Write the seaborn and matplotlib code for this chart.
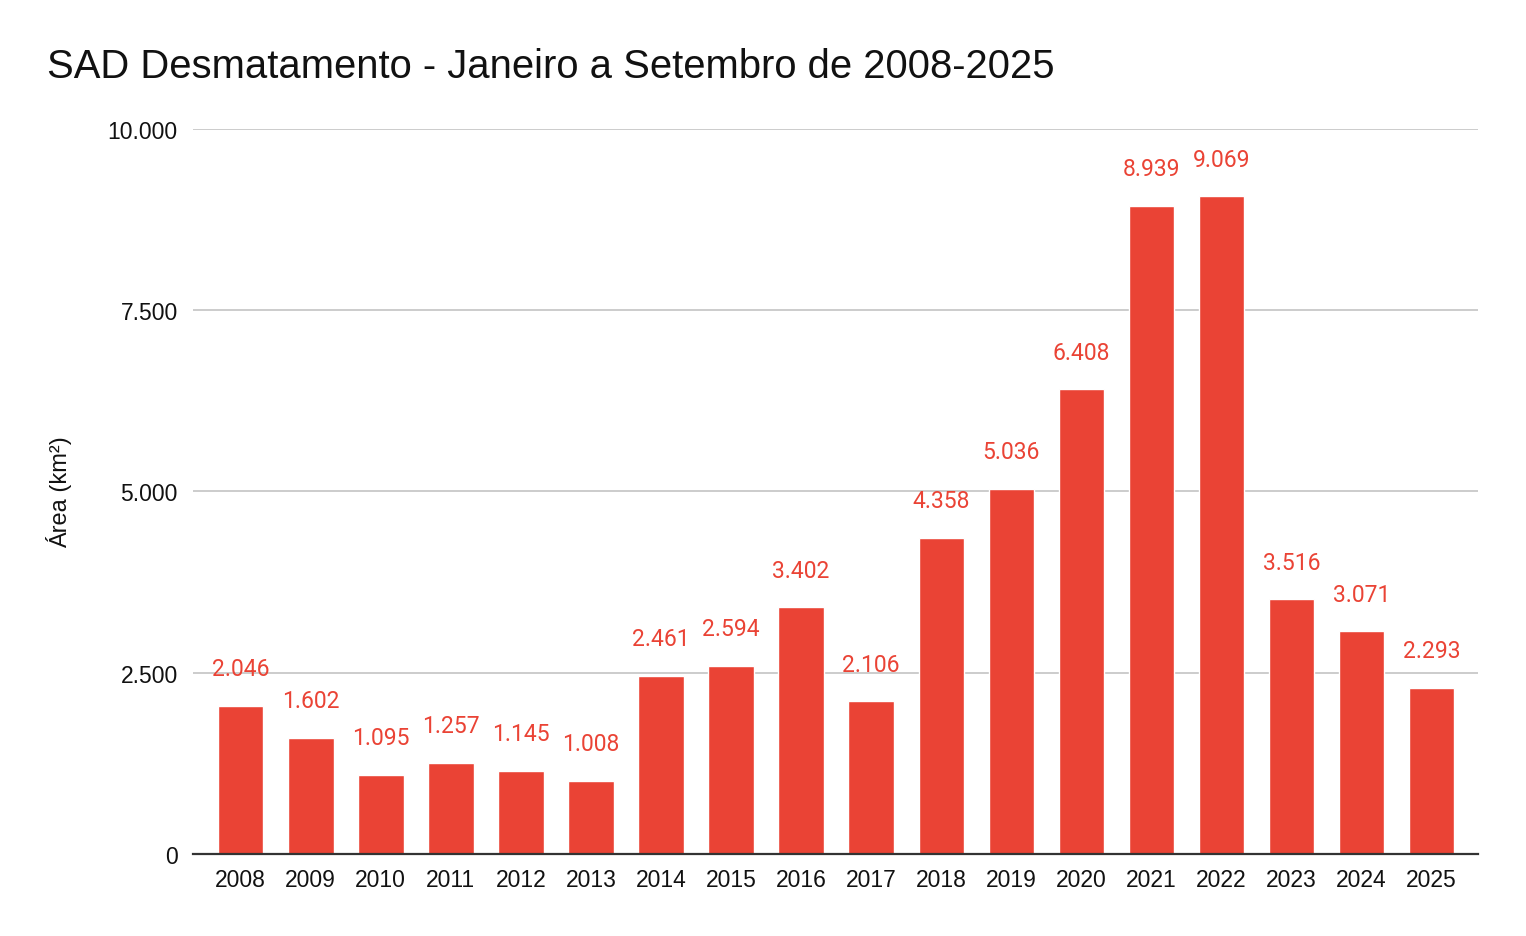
import pandas as pd
import matplotlib.pyplot as plt
import seaborn as sns
from matplotlib.ticker import FuncFormatter

years = ["2008", "2009", "2010", "2011", "2012", "2013", "2014", "2015", "2016",
         "2017", "2018", "2019", "2020", "2021", "2022", "2023", "2024", "2025"]
area = [2046, 1602, 1095, 1257, 1145, 1008, 2461, 2594, 3402,
        2106, 4358, 5036, 6408, 8939, 9069, 3516, 3071, 2293]
yticks = [0, 2500, 5000, 7500, 10000]

RED = "#EA4335"
ARIAL = ["Liberation Sans", "DejaVu Sans"]


def fmt(v):
    return f"{int(v):,}".replace(",", ".")


def main():
    df = pd.DataFrame({"ano": years, "area": area})

    sns.set_theme(style="white")
    plt.rcParams["font.family"] = ARIAL

    fig = plt.figure(figsize=(15.26, 9.37), dpi=100)
    ax = fig.add_axes([0.1265, 0.0875, 0.842, 0.7738])

    sns.barplot(data=df, x="ano", y="area", color=RED, saturation=1,
                width=0.65, ax=ax, zorder=3)

    ax.set_ylim(0, 10000)
    ax.set_yticks(yticks)
    ax.yaxis.set_major_formatter(FuncFormatter(lambda v, p: fmt(v)))
    ax.grid(axis="y", color="#cccccc", linewidth=1.4, zorder=0)
    ax.set_axisbelow(True)
    for s in ["top", "right", "left"]:
        ax.spines[s].set_visible(False)
    ax.spines["bottom"].set_color("#333333")
    ax.spines["bottom"].set_linewidth(1.6)
    ax.spines["bottom"].set_zorder(4)
    ax.tick_params(axis="both", length=0, labelsize=16.5, colors="#111111")
    ax.tick_params(axis="y", pad=11)
    ax.tick_params(axis="x", pad=10)
    ax.set_xlim(-0.68, len(years) - 1 + 0.66)

    # value labels above bars
    for i, v in enumerate(area):
        ax.annotate(fmt(v), (i, v), xytext=(0, 22), textcoords="offset points",
                    ha="center", va="baseline", fontsize=16.5, color=RED,
                    family=["Roboto", "DejaVu Sans"])

    ax.set_xlabel("")
    ax.set_ylabel("Área (km²)", fontsize=17, color="#111111", labelpad=26)

    fig.text(0.031, 1 - 78 / 937, "SAD Desmatamento - Janeiro a Setembro de 2008-2025",
             fontsize=28.8, color="#111111", ha="left", va="baseline")

    fig.savefig("out.png", dpi=100, facecolor="white")
    plt.close(fig)


if __name__ == "__main__":
    main()
